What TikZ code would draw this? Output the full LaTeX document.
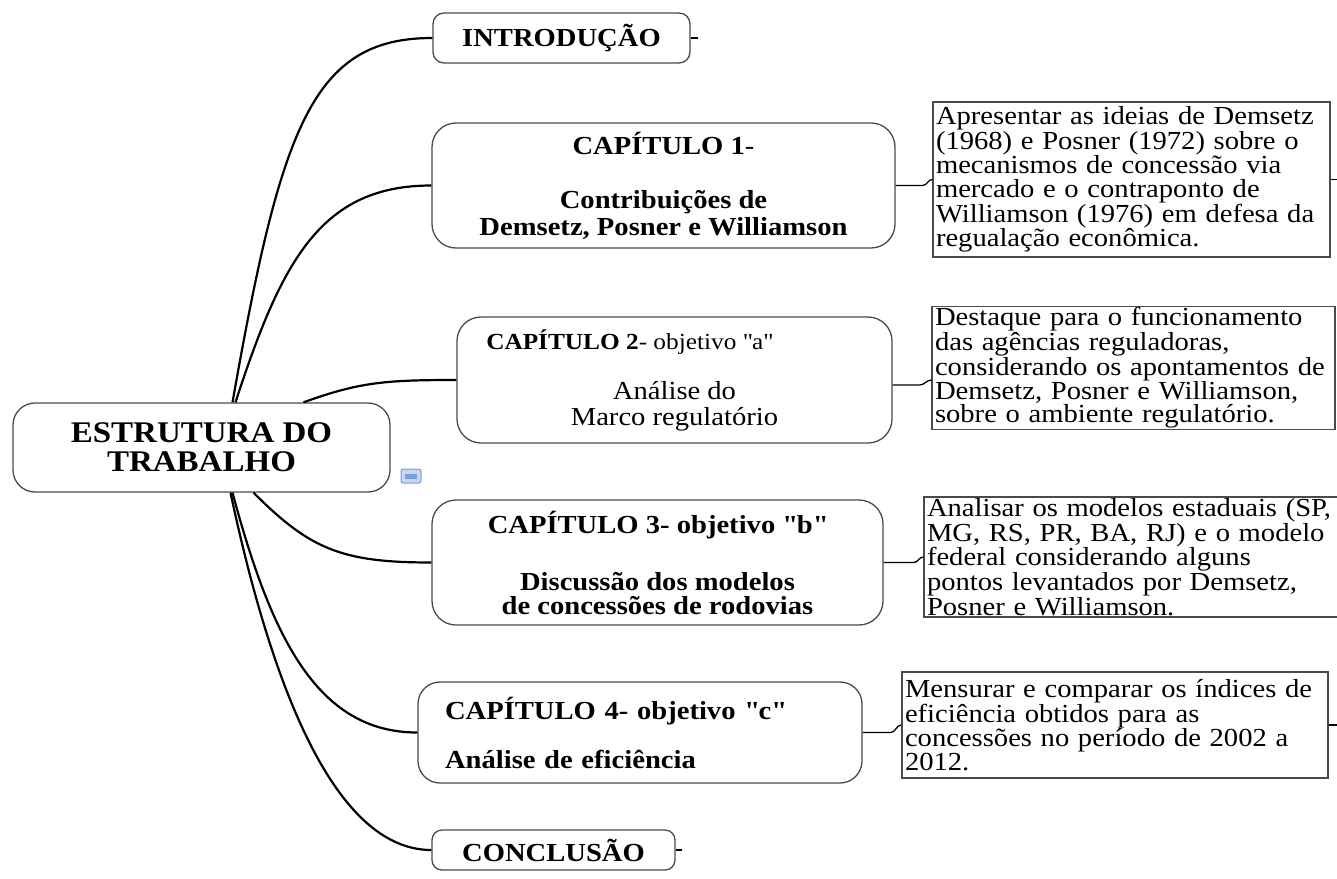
\documentclass[tikz,border=0pt]{standalone}
\usepackage{fontspec}
\setmainfont[FakeStretch=1.1]{Liberation Serif}
\newcommand\dq{\XeTeXglyph\XeTeXcharglyph"0022\relax}
\definecolor{boxline}{HTML}{4A4A4A}
\definecolor{notefill}{HTML}{C6D6F2}
\definecolor{noteline}{HTML}{7D9DD6}
\tikzset{
  topic/.style={draw=boxline, line width=1.3pt, align=center, inner sep=0pt},
  detail/.style={draw=boxline, line width=1.3pt, align=left, inner xsep=3pt, inner ysep=1pt,
    font=\fontsize{26}{23.4}\selectfont},
  branch/.style={line width=2.2pt},
  twig/.style={line width=1.3pt}
}
\begin{document}
\begin{tikzpicture}[x=1pt, y=1pt]
  \useasboundingbox (0,0) rectangle (1337,-878);

  \node[topic, minimum width=377, minimum height=89, rounded corners=22pt,
        font=\bfseries\fontsize{30}{29}\selectfont] (root) at (201.5,-447.5) {ESTRUTURA DO\\TRABALHO};

  \node[topic, minimum width=257, minimum height=50, rounded corners=11pt,
        font=\bfseries\fontsize{26}{27}\selectfont] (intro) at (561.5,-38) {INTRODUÇÃO};
  \node[topic, minimum width=463, minimum height=125, rounded corners=24pt,
        font=\bfseries\fontsize{26}{27}\selectfont] (cap1) at (663.5,-185.5)
        {CAPÍTULO 1\textmd{-}\\[27pt]Contribuições de\\Demsetz, Posner e Williamson};
  \node[topic, minimum width=435, minimum height=126, rounded corners=24pt,
        font=\fontsize{26}{26}\selectfont] (cap2) at (674.5,-380)
        {{\fontsize{23}{26}\selectfont\textbf{CAPÍTULO 2}- objetivo \dq a\dq\hspace*{90pt}}\\[24pt]Análise do\\Marco regulatório};
  \node[topic, minimum width=451, minimum height=125, rounded corners=24pt,
        font=\bfseries\fontsize{26}{24}\selectfont] (cap3) at (657.5,-562.5)
        {CAPÍTULO 3- objetivo \dq b\dq\\[33pt]Discussão dos modelos\\de concessões de rodovias};
  \node[topic, align=left, text width=390, inner xsep=27pt, minimum height=101, rounded corners=22pt,
        font=\bfseries\fontsize{26}{26}\selectfont] (cap4) at (640,-732.5)
        {CAPÍTULO 4- objetivo \dq c\dq\\[23pt]Análise de eficiência};
  \node[topic, minimum width=243, minimum height=40, rounded corners=10pt,
        font=\bfseries\fontsize{26}{27}\selectfont] (concl) at (553.5,-850) {CONCLUSÃO};

  \node[detail, text width=391, minimum height=155] (det1) at (1131.5,-179.5)
        {Apresentar as ideias de Demsetz\\(1968) e Posner (1972) sobre o\\mecanismos de concessão via\\mercado e o contraponto de\\Williamson (1976) em defesa da\\regualação econômica.};
  \node[detail, text width=397, minimum height=121] (det2) at (1133.5,-368)
        {Destaque para o funcionamento\\das agências reguladoras,\\considerando os apontamentos de\\Demsetz, Posner e Williamson,\\sobre o ambiente regulatório.};
  \node[detail, text width=416, minimum height=120] (det3) at (1135,-557)
        {Analisar os modelos estaduais (SP,\\MG, RS, PR, BA, RJ) e o modelo\\federal considerando alguns\\pontos levantados por Demsetz,\\Posner e Williamson.};
  \node[detail, text width=420, minimum height=106] (det4) at (1115,-725)
        {Mensurar e comparar os índices de\\eficiência obtidos para as\\concessões no período de 2002 a\\2012.};

  % note marker beside the central topic
  \node[draw=noteline, fill=notefill, line width=1pt, rounded corners=2pt,
        minimum width=20, minimum height=14, inner sep=0pt] (note) at (411,-476) {};
  \node[fill=noteline, minimum width=12, minimum height=5, inner sep=0pt] at (note) {};

  % branches from the central topic
  \draw[branch] ([xshift=31pt]root.north) .. controls +(80:280) and +(-120,0) .. (intro.west);
  \draw[branch] ([xshift=34pt]root.north) .. controls +(72:150) and +(-110,0) .. (cap1.west);
  \draw[branch] ([xshift=102pt]root.north) .. controls +(20:60) and +(-70,0) .. (cap2.west);
  \draw[branch] ([xshift=52pt]root.south) .. controls +(-45:80) and +(-90,0) .. (cap3.west);
  \draw[branch] ([xshift=31pt]root.south) .. controls +(-75:150) and +(-100,0) .. (cap4.west);
  \draw[branch] ([xshift=29pt]root.south) .. controls +(-78:250) and +(-80,0) .. (concl.west);

  % chapters to their notes
  \draw[twig] (cap1.east) -- ++(27,0) to[out=0,in=180] (det1.west);
  \draw[twig] ([yshift=-5pt]cap2.east) -- ++(27,0) to[out=0,in=180] ([yshift=-12pt]det2.west);
  \draw[twig] (cap3.east) -- ++(30,0) to[out=0,in=180] (det3.west);
  \draw[twig] (cap4.east) -- ++(28,0) to[out=0,in=180] (det4.west);

  % collapse stubs
  \draw[twig] (intro.east) -- ++(7,0);
  \draw[twig] (det1.east) -- ++(7,0);
  \draw[twig] (det4.east) -- ++(9,0);
  \draw[twig] (concl.east) -- ++(6,0);
\end{tikzpicture}
\end{document}
